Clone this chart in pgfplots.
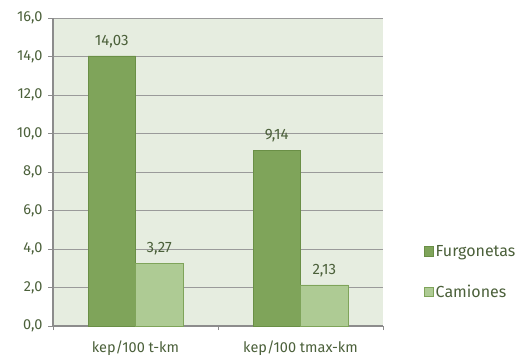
\documentclass[border=0pt]{standalone}
\usepackage{fontspec}
\setmainfont{Fira Sans}
\usepackage{pgfplots}
\pgfplotsset{compat=1.18}

\definecolor{txt}{HTML}{4B603A}
\definecolor{bgarea}{HTML}{E6EDE0}
\definecolor{gridc}{HTML}{9A9A9A}
\definecolor{axisc}{HTML}{8C8C8C}
\definecolor{furgF}{HTML}{7FA45A}
\definecolor{furgD}{HTML}{6A8F46}
\definecolor{camF}{HTML}{AECB94}
\definecolor{camD}{HTML}{7FA45A}

\begin{document}
\begin{tikzpicture}[x=1pt,y=1pt]
\useasboundingbox (0,0) rectangle (521,356);
\begin{axis}[
  at={(53pt,30pt)}, anchor=south west,
  scale only axis, width=330pt, height=308pt,
  xmin=-0.5, xmax=1.5, ymin=0, ymax=16,
  axis background/.style={fill=bgarea, draw=none},
  axis x line*=bottom, axis y line*=left,
  axis line style={axisc, line width=1.2pt},
  ybar=0pt, bar width=47.5pt,
  ytick={0,2,...,16},
  yticklabel={\pgfmathprintnumber[fixed,fixed zerofill,precision=1,use comma]{\tick}},
  /pgf/number format/assume math mode=true,
  ymajorgrids, grid style={gridc, line width=0.6pt},
  ytick style={axisc, line width=0.8pt},
  tick align=outside, major tick length=5pt,
  xtick={0,1}, xticklabels={kep/100 t-km, kep/100 tmax-km},
  xtick style={draw=none},
  extra x ticks={-0.5,0.5,1.5}, extra x tick labels={},
  extra x tick style={xtick style={axisc, line width=0.8pt, draw=axisc}, major tick length=4pt, xmajorgrids=false, grid=none},
  ticklabel style={font=\fontsize{14.5}{16}\selectfont, text=txt},
  xticklabel style={yshift=-6pt},
  yticklabel style={xshift=-2pt},
  nodes near coords={\pgfmathprintnumber[fixed,fixed zerofill,precision=2,use comma]{\pgfplotspointmeta}},
  every node near coord/.append style={font=\fontsize{15}{17}\selectfont, text=txt, yshift=4pt},
  legend style={at={(1.114,0.175)}, anchor=west, draw=none, fill=none,
    font=\fontsize{16}{18}\selectfont, text=txt, row sep=23pt,
    nodes={inner xsep=1.5pt},
    /tikz/every even column/.append style={column sep=0pt}},
  legend cell align=left,
  legend image code/.code={\draw[#1, line width=0.8pt] (0pt,-4.8pt) rectangle (9.6pt,4.8pt);},
  clip=false,
]
\addplot[fill=furgF, draw=furgD, line width=0.8pt] coordinates {(0,14.03) (1,9.14)};
\addplot[fill=camF, draw=camD, line width=0.8pt] coordinates {(0,3.27) (1,2.13)};
\legend{Furgonetas, Camiones}
\end{axis}
\end{tikzpicture}
\end{document}
